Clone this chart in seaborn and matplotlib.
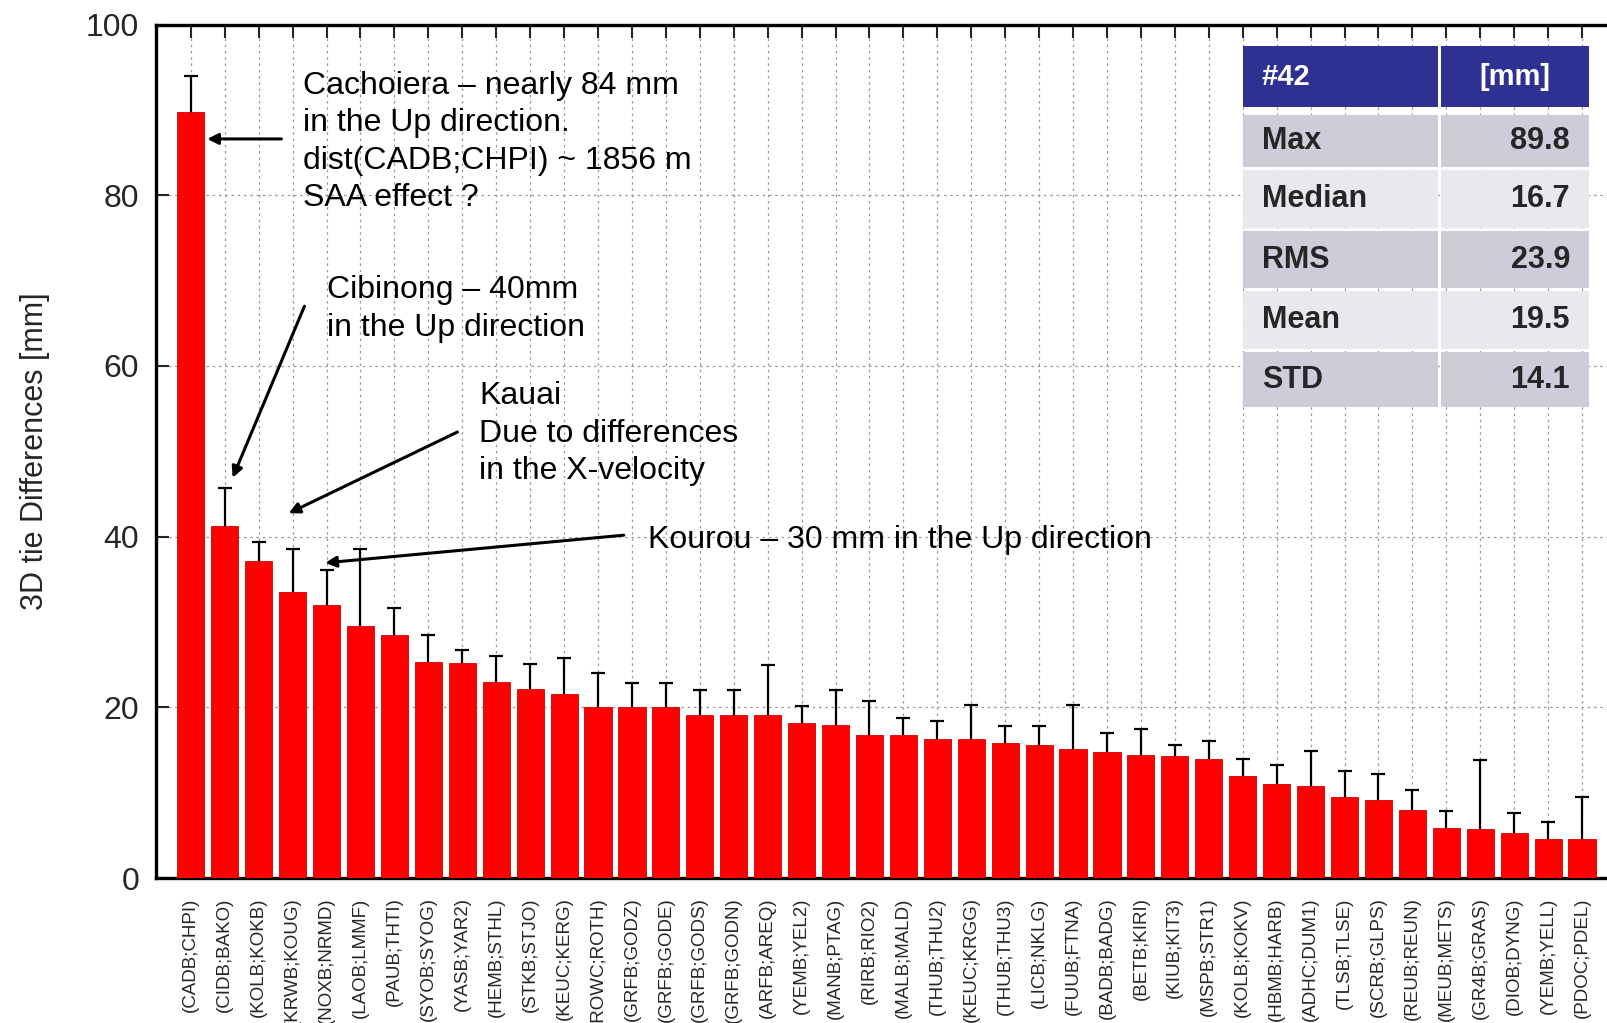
import numpy as np
import pandas as pd
import matplotlib
matplotlib.use("Agg")
import matplotlib.pyplot as plt
import seaborn as sns
from matplotlib.patches import Rectangle

# ==============================
# Data
# ==============================

pairs = [
    "(CADB;CHPI)", "(CIDB;BAKO)", "(KOLB;KOKB)", "(KRWB;KOUG)", "(NOXB;NRMD)",
    "(LAOB;LMMF)", "(PAUB;THTI)", "(SYOB;SYOG)", "(YASB;YAR2)", "(HEMB;STHL)",
    "(STKB;STJO)", "(KEUC;KERG)", "(ROWC;ROTH)", "(GRFB;GODZ)", "(GRFB;GODE)",
    "(GRFB;GODS)", "(GRFB;GODN)", "(ARFB;AREQ)", "(YEMB;YEL2)", "(MANB;PTAG)",
    "(RIRB;RIO2)", "(MALB;MALD)", "(THUB;THU2)", "(KEUC;KRGG)", "(THUB;THU3)",
    "(LICB;NKLG)", "(FUUB;FTNA)", "(BADB;BADG)", "(BETB;KIRI)", "(KIUB;KIT3)",
    "(MSPB;STR1)", "(KOLB;KOKV)", "(HBMB;HARB)", "(ADHC;DUM1)", "(TLSB;TLSE)",
    "(SCRB;GLPS)", "(REUB;REUN)", "(MEUB;METS)", "(GR4B;GRAS)", "(DIOB;DYNG)",
    "(YEMB;YELL)", "(PDOC;PDEL)",
]

diff_mm = [
    89.8, 41.3, 37.1, 33.5, 32.0, 29.5, 28.5, 25.3, 25.2, 23.0,
    22.2, 21.6, 20.0, 20.0, 20.0, 19.1, 19.1, 19.1, 18.2, 17.9,
    16.8, 16.8, 16.3, 16.3, 15.8, 15.6, 15.1, 14.8, 14.4, 14.3,
    13.9, 11.9, 11.0, 10.8, 9.5, 9.2, 8.0, 5.9, 5.8, 5.3,
    4.6, 4.6,
]

# top of each error bar
err_top = [
    94.0, 45.7, 39.4, 38.5, 36.1, 38.5, 31.6, 28.5, 26.7, 26.0,
    25.1, 25.8, 24.0, 22.9, 22.9, 22.0, 22.0, 25.0, 20.2, 22.0,
    20.8, 18.8, 18.4, 20.3, 17.8, 17.8, 20.3, 17.0, 17.5, 15.6,
    16.1, 14.0, 13.2, 14.9, 12.5, 12.2, 10.3, 7.9, 13.8, 7.6,
    6.6, 9.5,
]

stat_names = ["Max", "Median", "RMS", "Mean", "STD"]
stat_values = ["89.8", "16.7", "23.9", "19.5", "14.1"]

df = pd.DataFrame({"pair": pairs, "diff": diff_mm, "top": err_top})
df["err"] = df["top"] - df["diff"]

# ==============================
# Style
# ==============================

sns.set_style("ticks")
plt.rcParams["font.family"] = ["Liberation Sans", "DejaVu Sans"]

fig = plt.figure(figsize=(16.07, 10.23), dpi=100)
ax = fig.add_axes([0.0970, 0.1417, 0.9297, 0.8343])

# ==============================
# Bars + error bars
# ==============================

sns.barplot(
    data=df,
    x="pair",
    y="diff",
    color="#ff0000",
    saturation=1,
    width=0.8,
    edgecolor="#d00000",
    linewidth=0.6,
    zorder=3,
    ax=ax
)

ax.errorbar(
    np.arange(len(df)),
    df["diff"],
    yerr=df["err"],
    fmt="none",
    ecolor="black",
    elinewidth=1.6,
    capsize=5,
    capthick=1.6,
    zorder=2.5
)

# ==============================
# Axes
# ==============================

ax.set_xlim(-1.03, 43)
ax.set_ylim(0, 100)
ax.set_yticks([0, 20, 40, 60, 80, 100])
ax.set_xlabel("")
ax.set_ylabel("3D tie Differences [mm]", fontsize=22, labelpad=26)

ax.set_axisbelow(True)
ax.grid(True, axis="both", linestyle=(0, (2, 3)), color="#999999", linewidth=0.9)

for side in ["top", "left", "bottom", "right"]:
    ax.spines[side].set_visible(True)
    ax.spines[side].set_linewidth(2.4)
    ax.spines[side].set_color("black")

ax.tick_params(axis="y", direction="in", length=9, width=1.5, labelsize=23, pad=12, right=True)
ax.tick_params(axis="x", direction="in", length=9, width=1.5, top=True, labelsize=13.5, pad=14)
plt.setp(ax.get_xticklabels(), rotation=90, va="top", ha="center")

# ==============================
# Annotations
# ==============================

txt = dict(fontsize=23, color="black", linespacing=1.33, zorder=6)
arrow = dict(arrowstyle="-|>", color="black", lw=2.2, mutation_scale=16)

ax.text(3.31, 94.6,
        "Cachoiera \u2013 nearly 84 mm\nin the Up direction.\ndist(CADB;CHPI) ~ 1856 m\nSAA effect ?",
        va="top", ha="left", **txt)
ax.annotate("", xy=(0.40, 86.6), xytext=(2.75, 86.6), arrowprops=arrow, zorder=6)

ax.text(4.0, 70.65, "Cibinong \u2013 40mm\nin the Up direction",
        va="top", ha="left", **txt)
ax.annotate("", xy=(1.20, 46.6), xytext=(3.38, 67.3), arrowprops=arrow, zorder=6)

ax.text(8.49, 58.2, "Kauai\nDue to differences\nin the X-velocity",
        va="top", ha="left", **txt)
ax.annotate("", xy=(2.81, 42.6), xytext=(7.93, 52.4), arrowprops=arrow, zorder=6)

ax.text(13.46, 39.6, "Kourou \u2013 30 mm in the Up direction",
        va="center", ha="left", **txt)
ax.annotate("", xy=(3.88, 36.9), xytext=(12.84, 40.2), arrowprops=arrow, zorder=6)

# ==============================
# Statistics table (figure pixels)
# ==============================

W, H = 1607.0, 1023.0

def fig_rect(x0, y0, x1, y1, color):
    fig.add_artist(Rectangle((x0 / W, 1 - y1 / H), (x1 - x0) / W, (y1 - y0) / H,
                             transform=fig.transFigure, facecolor=color,
                             edgecolor="none", zorder=10))

col_a = (1243, 1438)
col_b = (1441, 1589)

fig_rect(col_a[0], 46, col_a[1], 107, "#2e3192")
fig_rect(col_b[0], 46, col_b[1], 107, "#2e3192")
fig.text(1262 / W, 1 - 77 / H, "#42", color="white", fontsize=21, fontweight="bold",
         va="center", ha="left", zorder=11)
fig.text((col_b[0] + col_b[1]) / 2 / W, 1 - 77 / H, "[mm]", color="white", fontsize=21,
         fontweight="bold", va="center", ha="center", zorder=11)

row_edges = [(115, 167), (170, 228), (231, 288), (291, 349), (352, 407)]
row_colors = ["#cdcdd9", "#e8e8ee", "#cdcdd9", "#e8e8ee", "#cdcdd9"]

for (y0, y1), c, name, val in zip(row_edges, row_colors, stat_names, stat_values):
    fig_rect(col_a[0], y0, col_a[1], y1, c)
    fig_rect(col_b[0], y0, col_b[1], y1, c)
    yc = 1 - (y0 + y1) / 2 / H
    fig.text(1262 / W, yc, name, fontsize=22, fontweight="bold", va="center",
             ha="left", zorder=11)
    fig.text(1570 / W, yc, val, fontsize=22, fontweight="bold", va="center",
             ha="right", zorder=11)

plt.savefig("out.png", dpi=100)
